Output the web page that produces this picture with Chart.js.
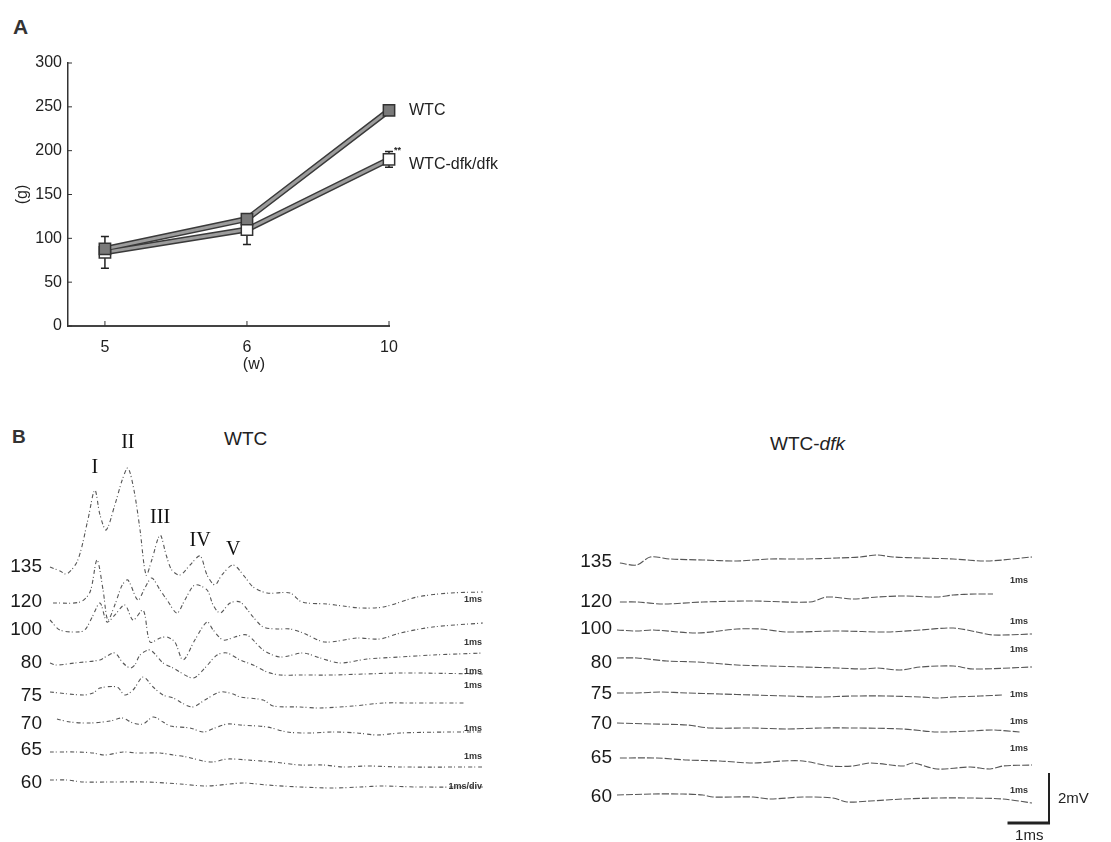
<!DOCTYPE html>
<html>
<head>
<meta charset="utf-8">
<script src="https://cdn.jsdelivr.net/npm/chart.js@4.4.1/dist/chart.umd.min.js"></script>
<style>
  body { margin: 0; background: #fff; width: 1111px; height: 842px; position: relative; overflow: hidden;
         font-family: "Liberation Sans", Arial, sans-serif; color: #222; }
  canvas { position: absolute; }
  .txt { position: absolute; white-space: nowrap; line-height: 1; }
</style>
</head>
<body>
<div class="txt" style="left:13px;top:16px;font-weight:bold;font-size:21px;color:#333">A</div>
<div class="txt" style="left:12px;top:427px;font-weight:bold;font-size:19px;color:#333">B</div>
<div class="txt" style="left:224px;top:429px;font-size:19px">WTC</div>
<div class="txt" style="left:770px;top:434px;font-size:19px">WTC-<i>dfk</i></div>

<canvas id="weight" width="600" height="380" style="left:0;top:0"></canvas>
<canvas id="abr-wtc" width="500" height="400" style="left:0;top:420px"></canvas>
<canvas id="abr-dfk" width="551" height="422" style="left:560px;top:420px"></canvas>

<script>
// ---- Panel A: body weight (g) by age (w)
const weeks = ['5', '6', '10'];
const wtcMean = [88, 122, 246];
const wtcSd = [5, 4, 4];
const dfkMean = [84, 110, 190];
const dfkSd = [18, 17, 9];
const seriesNames = ['WTC', 'WTC-dfk/dfk'];

// ---- Panel B: ABR traces, [time (ms), amplitude (mV)]
const levels = ['135', '120', '100', '80', '75', '70', '65', '60'];

const wtc135 = [[0,0],[0.23,-0.16],[0.39,-0.28],[0.64,0.28],[0.87,1.88],[1.03,3.08],[1.15,2.08],[1.29,1.48],
  [1.49,2.48],[1.66,3.48],[1.79,3.96],[1.93,3.08],[2.07,1.48],[2.21,-0.32],[2.34,0.28],[2.53,1.28],[2.67,0.48],
  [2.8,-0.12],[2.99,-0.32],[3.22,0.08],[3.45,0.44],[3.61,-0.32],[3.79,-0.72],[3.95,-0.32],[4.21,0.08],
  [4.48,-0.4],[4.67,-0.8],[4.99,-1.04],[5.52,-1.04],[5.79,-1.4],[6.37,-1.48],[6.74,-1.56],[7.13,-1.64],
  [7.66,-1.6],[8.44,-1.2],[9.2,-1.04],[9.95,-1.0]];
const wtc120 = [[0.07,-0.04],[0.69,0],[0.92,0.4],[1.08,1.68],[1.22,0.48],[1.33,-0.72],[1.49,-0.12],[1.66,0.68],
  [1.79,0.88],[2.02,0.08],[2.18,0.56],[2.34,0.96],[2.53,0.48],[2.69,0.08],[2.92,-0.44],[3.1,0.08],[3.33,0.68],
  [3.61,0.48],[3.75,-0.12],[3.91,-0.44],[4.14,-0.04],[4.37,0],[4.67,-0.6],[4.9,-1.0],[5.22,-1.08],[5.52,-1.08],
  [5.82,-1.24],[6.32,-1.6],[7.06,-1.44],[7.59,-1.48],[8.05,-1.24],[8.8,-1.0],[9.95,-0.84]];
const wtc100 = [[0,0.4],[0.23,0],[0.62,-0.08],[0.8,0],[0.97,0.52],[1.15,1.08],[1.31,0.32],[1.49,0.6],[1.72,1.0],
  [1.91,0.4],[2.14,0.8],[2.3,-0.48],[2.53,-0.32],[2.69,-0.28],[2.87,-0.48],[3.06,-1.2],[3.33,-0.4],[3.61,0.32],
  [3.75,0],[3.98,-0.4],[4.25,-0.28],[4.53,-0.2],[4.9,-0.8],[5.29,-1.08],[5.82,-0.92],[6.21,-1.12],[6.67,-1.32],
  [7.29,-1.16],[8.05,-1.08],[8.8,-1.0],[9.95,-0.92]];
const wtc80 = [[0,0],[0.14,-0.08],[0.57,0],[1.15,0.12],[1.31,0.28],[1.49,0.4],[1.68,0],[1.84,-0.2],[1.95,-0.08],
  [2.07,0.32],[2.3,0.52],[2.6,0],[2.83,-0.2],[3.29,-0.6],[3.56,-0.2],[3.84,0.32],[4.07,0.4],[4.37,0.12],
  [4.67,-0.08],[4.99,-0.36],[5.29,-0.48],[5.75,-0.48],[6.51,-0.48],[8.05,-0.4],[9.95,-0.44]];
const wtc75 = [[0,0.16],[0.76,0.04],[0.99,0.12],[1.15,0.32],[1.54,0.36],[1.72,0.04],[1.91,0.24],[2.14,0.76],
  [2.37,0.36],[2.6,0.04],[2.83,-0.08],[3.26,-0.44],[3.56,-0.16],[3.91,0.16],[4.21,0.08],[4.37,-0.04],
  [4.9,-0.16],[5.13,-0.4],[5.75,-0.44],[6.21,-0.48],[6.97,-0.4],[7.66,-0.28],[8.28,-0.28],[9.54,-0.28]];
const wtc70 = [[0.16,0.2],[0.46,0.08],[0.92,0.04],[1.38,0.12],[1.66,0.24],[1.91,0.04],[2.14,0],[2.37,0.28],
  [2.6,0.08],[2.76,-0.08],[3.22,-0.16],[3.52,-0.32],[3.79,-0.16],[4.07,0],[4.37,-0.04],[4.99,-0.12],
  [5.45,-0.32],[5.98,-0.36],[6.51,-0.32],[7.06,-0.36],[7.52,-0.44],[8.05,-0.36],[9.2,-0.32],[9.95,-0.32]];
const wtc65 = [[0,-0.08],[0.62,-0.08],[0.99,-0.12],[1.26,-0.2],[1.68,-0.08],[2.0,-0.12],[2.53,-0.12],[2.83,-0.2],
  [3.15,-0.28],[3.52,-0.44],[3.75,-0.48],[4.07,-0.36],[4.53,-0.4],[5.13,-0.48],[5.75,-0.6],[6.28,-0.6],
  [6.74,-0.68],[7.29,-0.64],[8.05,-0.68],[9.95,-0.68]];
const wtc60 = [[0,0.12],[0.39,0.12],[0.76,0.04],[1.38,0.04],[2.23,0.04],[2.99,-0.04],[3.61,-0.12],[4.44,0],
  [4.99,-0.08],[5.75,-0.16],[6.51,-0.2],[7.13,-0.16],[7.66,-0.12],[8.44,-0.16],[9.95,-0.16]];

const dfk135 = [[0.07,-0.04],[0.48,-0.12],[0.8,0.2],[1.28,0.12],[2.07,0.08],[2.89,0.04],[3.69,0.12],[4.48,0.12],
  [5.3,0.16],[5.86,0.2],[6.27,0.28],[6.65,0.2],[7.3,0.16],[8.1,0.12],[8.92,0.04],[10,0.2]];
const dfk120 = [[0.07,0],[0.48,0],[1.11,-0.08],[2.07,0],[3.28,0.04],[4.65,0],[5.06,0.2],[5.69,0.12],[6.27,0.2],
  [6.89,0.24],[7.71,0.2],[8.1,0.28],[8.63,0.32],[9.06,0.32]];
const dfk100 = [[0,-0.04],[0.48,-0.08],[0.87,-0.04],[1.93,-0.16],[2.89,0],[3.45,0],[4.1,-0.12],[5.3,-0.08],
  [6.51,-0.12],[7.3,-0.04],[8.1,0.04],[8.67,-0.12],[9.06,-0.24],[10,-0.2]];
const dfk80 = [[0,0.2],[0.48,0.2],[1.2,0.08],[1.93,0.04],[2.89,-0.08],[3.69,-0.12],[4.48,-0.16],[5.3,-0.2],
  [5.93,-0.24],[6.27,-0.2],[6.82,-0.28],[7.3,-0.16],[8.1,-0.12],[8.58,-0.24],[10,-0.16]];
const dfk75 = [[0,0.04],[0.48,0.04],[1.04,0.08],[1.69,0.04],[2.48,0],[3.28,-0.04],[4.1,-0.08],[4.89,-0.12],
  [5.69,-0.08],[6.51,-0.08],[7.3,-0.12],[7.71,-0.16],[8.1,-0.12],[8.75,-0.08],[9.3,-0.04]];
const dfk70 = [[0,0.04],[0.87,0],[1.69,-0.04],[2.24,-0.16],[3.28,-0.16],[4.1,-0.2],[4.89,-0.16],[5.69,-0.16],
  [6.89,-0.2],[7.71,-0.32],[8.51,-0.28],[9.06,-0.24],[9.71,-0.32]];
const dfk65 = [[0.07,0],[0.96,0],[1.69,-0.08],[2.48,-0.12],[3.28,-0.2],[4.0,-0.12],[4.48,-0.12],[5.13,-0.32],
  [5.69,-0.32],[6.1,-0.2],[6.89,-0.32],[7.13,-0.2],[7.71,-0.44],[8.51,-0.36],[8.99,-0.44],[9.3,-0.32],[10,-0.28]];
const dfk60 = [[0,0.08],[0.87,0.12],[1.59,0.12],[2.07,0.08],[2.31,0],[3.28,0],[3.69,-0.08],[4.48,0],[5.2,-0.04],
  [5.54,-0.2],[6.1,-0.16],[6.89,-0.08],[7.71,-0.04],[8.51,-0.04],[9.3,-0.08],[10,-0.24]];

const wtcTraces = [wtc135, wtc120, wtc100, wtc80, wtc75, wtc70, wtc65, wtc60];
const dfkTraces = [dfk135, dfk120, dfk100, dfk80, dfk75, dfk70, dfk65, dfk60];

// wave labels on the 135 dB WTC trace
const waveNames = ['I', 'II', 'III', 'IV', 'V'];
const waveLatency = [1.03, 1.79, 2.53, 3.45, 4.21];

const wtcTags = ['1ms', '1ms', '1ms', '1ms', '', '1ms', '1ms', '1ms/div'];
const dfkTags = ['1ms', '1ms', '1ms', '', '1ms', '1ms', '1ms', '1ms'];
const scaleBarMs = 1;
const scaleBarMv = 2;

// ---- layout (row baselines in mV below top, tag offsets in px)
const wtcRowOffset = [5.08, 6.48, 7.6, 8.92, 10.24, 11.36, 12.4, 13.72];
const dfkRowOffset = [4.88, 6.48, 7.56, 8.92, 10.16, 11.36, 12.72, 14.28];
const wtcTagDy = [33, 41, 42, 23, 0, 5, 7, 4];
const dfkTagDy = [19, 20, 21, 0, 1, -2, -9, -6];
const waveLift = [22, 25, 17, 15, 15];

const FONT = '"Liberation Sans", Arial, sans-serif';

// Panel A decorations: error bars, series labels, axis titles, inward ticks
const weightDecor = {
    id: 'weightDecor',
    beforeDatasetsDraw(chart) {
        const { ctx, scales: { x, y } } = chart;
        ctx.save();
        ctx.strokeStyle = '#222';
        ctx.lineWidth = 1.5;
        [[wtcMean, wtcSd], [dfkMean, dfkSd]].forEach(([mean, sd]) => {
            mean.forEach((v, i) => {
                const px = x.getPixelForValue(i);
                const top = y.getPixelForValue(v + sd[i]);
                const bot = y.getPixelForValue(v - sd[i]);
                ctx.beginPath();
                ctx.moveTo(px, top); ctx.lineTo(px, bot);
                ctx.moveTo(px - 4, top); ctx.lineTo(px + 4, top);
                ctx.moveTo(px - 4, bot); ctx.lineTo(px + 4, bot);
                ctx.stroke();
            });
        });
        ctx.restore();
    },
    afterDraw(chart) {
        const { ctx, chartArea, scales: { x, y } } = chart;
        ctx.save();
        // inward ticks
        ctx.strokeStyle = '#333';
        ctx.lineWidth = 1;
        y.ticks.forEach(t => {
            const py = y.getPixelForValue(t.value);
            ctx.beginPath(); ctx.moveTo(chartArea.left, py); ctx.lineTo(chartArea.left + 4, py); ctx.stroke();
        });
        weeks.forEach((w, i) => {
            const px = x.getPixelForValue(i);
            ctx.beginPath(); ctx.moveTo(px, chartArea.bottom); ctx.lineTo(px, chartArea.bottom - 5); ctx.stroke();
        });
        // series labels
        ctx.fillStyle = '#222';
        ctx.font = '16px ' + FONT;
        ctx.textBaseline = 'middle';
        const lx = x.getPixelForValue(2) + 20;
        ctx.fillText(seriesNames[0], lx, y.getPixelForValue(wtcMean[2]));
        ctx.fillText(seriesNames[1], lx, y.getPixelForValue(dfkMean[2]) + 5);
        ctx.font = 'bold 9px ' + FONT;
        ctx.fillText('**', x.getPixelForValue(2) + 5, y.getPixelForValue(dfkMean[2] + dfkSd[2]) - 1);
        // axis titles
        ctx.font = '16px ' + FONT;
        ctx.textAlign = 'center';
        ctx.fillText('(w)', x.getPixelForValue(1) + 7, chartArea.bottom + 39);
        ctx.translate(23, y.getPixelForValue(150));
        ctx.rotate(-Math.PI / 2);
        ctx.fillText('(g)', 0, 0);
        ctx.restore();
    }
};

const pts = arr => arr.map((v, i) => ({ x: i, y: v }));

new Chart(document.getElementById('weight'), {
    type: 'line',
    data: {
        datasets: [
            { data: pts(wtcMean), borderColor: '#3a3a3a', borderWidth: 6, pointRadius: 0, order: 4, clip: false },
            { data: pts(dfkMean), borderColor: '#3a3a3a', borderWidth: 6, pointRadius: 0, order: 3, clip: false },
            {
                data: pts(dfkMean), borderColor: '#9c9c9c', borderWidth: 3, order: 2, clip: false,
                pointStyle: 'rect', pointRadius: 8, pointBackgroundColor: '#fff',
                pointBorderColor: '#333', pointBorderWidth: 1.5
            },
            {
                data: pts(wtcMean), borderColor: '#9c9c9c', borderWidth: 3, order: 1, clip: false,
                pointStyle: 'rect', pointRadius: 8, pointBackgroundColor: '#7a7a7a',
                pointBorderColor: '#333', pointBorderWidth: 1.5
            }
        ]
    },
    options: {
        responsive: false,
        animation: false,
        layout: { padding: { top: 63, right: 211, left: 0, bottom: 0 } },
        plugins: { legend: { display: false }, tooltip: { enabled: false } },
        scales: {
            x: {
                type: 'linear', min: -0.26, max: 2.0,
                afterBuildTicks: s => { s.ticks = weeks.map((w, i) => ({ value: i })); },
                afterFit: s => { s.height = 54; },
                ticks: { callback: v => weeks[v], color: '#222', font: { size: 16, family: FONT }, padding: 12 },
                grid: { display: false, drawTicks: false },
                border: { color: '#444', width: 2 }
            },
            y: {
                min: 0, max: 300,
                afterFit: s => { s.width = 68; },
                ticks: { stepSize: 50, color: '#222', font: { size: 16, family: FONT }, padding: 6 },
                grid: { display: false, drawTicks: false },
                border: { color: '#333', width: 1.5 }
            }
        }
    },
    plugins: [weightDecor]
});

// Panel B: stacked ABR traces
function tracePanel(id, traces, rowOffset, cfg) {
    const decor = {
        id: 'abrDecor',
        afterDraw(chart) {
            const { ctx, chartArea, scales: { x, y } } = chart;
            ctx.save();
            ctx.fillStyle = '#1a1a1a';
            ctx.font = '19px ' + FONT;
            ctx.textAlign = 'right';
            ctx.textBaseline = 'middle';
            levels.forEach((lv, i) => {
                ctx.fillText(lv, chartArea.left - cfg.labelGap, y.getPixelForValue(-rowOffset[i]));
            });
            ctx.font = 'bold 9px ' + FONT;
            ctx.fillStyle = '#333';
            cfg.tags.forEach((tag, i) => {
                if (!tag) return;
                ctx.fillText(tag, cfg.tagRight, y.getPixelForValue(-rowOffset[i]) + cfg.tagDy[i]);
            });
            if (cfg.waves) {
                ctx.font = '20px "Liberation Serif", "DejaVu Serif", serif';
                ctx.textAlign = 'center';
                ctx.fillStyle = '#111';
                waveNames.forEach((n, k) => {
                    const p = traces[0].find(d => d[0] === waveLatency[k]);
                    ctx.fillText(n, x.getPixelForValue(p[0]), y.getPixelForValue(p[1] - rowOffset[0]) - waveLift[k]);
                });
            }
            if (cfg.bar) {
                const bx = x.getPixelForValue(cfg.bar[0]);
                const bx0 = x.getPixelForValue(cfg.bar[0] - scaleBarMs);
                const by = y.getPixelForValue(cfg.bar[1]);
                const by1 = y.getPixelForValue(cfg.bar[1] + scaleBarMv);
                ctx.strokeStyle = '#222';
                ctx.lineWidth = 2;
                ctx.beginPath(); ctx.moveTo(bx, by1); ctx.lineTo(bx, by + 1); ctx.stroke();
                ctx.lineWidth = 3;
                ctx.beginPath(); ctx.moveTo(bx0, by); ctx.lineTo(bx + 1, by); ctx.stroke();
                ctx.fillStyle = '#222';
                ctx.font = '15px ' + FONT;
                ctx.textAlign = 'left';
                ctx.fillText(scaleBarMv + 'mV', bx + 9, (by + by1) / 2 + 1);
                ctx.textAlign = 'center';
                ctx.fillText(scaleBarMs + 'ms', (bx + bx0) / 2 + 1, by + 13);
            }
            ctx.restore();
        }
    };
    return new Chart(document.getElementById(id), {
        type: 'line',
        data: {
            datasets: traces.map((tr, i) => ({
                data: tr.map(([t, v]) => ({ x: t, y: v - rowOffset[i] })),
                borderColor: cfg.color,
                borderWidth: 1.1,
                borderDash: cfg.dash,
                pointRadius: 0,
                tension: 0.3,
                clip: false
            }))
        },
        options: {
            responsive: false,
            animation: false,
            layout: { padding: cfg.padding },
            plugins: { legend: { display: false }, tooltip: { enabled: false } },
            scales: {
                x: { type: 'linear', min: 0, max: 10, display: false },
                y: { min: -cfg.span, max: 0, display: false }
            }
        },
        plugins: [decor]
    });
}

tracePanel('abr-wtc', wtcTraces, wtcRowOffset, {
    padding: { left: 50, right: 15, top: 20, bottom: 0 },
    span: 15.2, labelGap: 8, tagRight: 482, tagDy: wtcTagDy, tags: wtcTags,
    color: 'rgba(30,30,30,0.75)', dash: [4, 2, 1, 3], waves: true
});

tracePanel('abr-dfk', dfkTraces, dfkRowOffset, {
    padding: { left: 57, right: 79, top: 20, bottom: 2 },
    span: 16, labelGap: 5, tagRight: 468, tagDy: dfkTagDy, tags: dfkTags,
    color: 'rgba(30,30,30,0.75)', dash: [7, 2], bar: [10.41, -15.32]
});
</script>
</body>
</html>
